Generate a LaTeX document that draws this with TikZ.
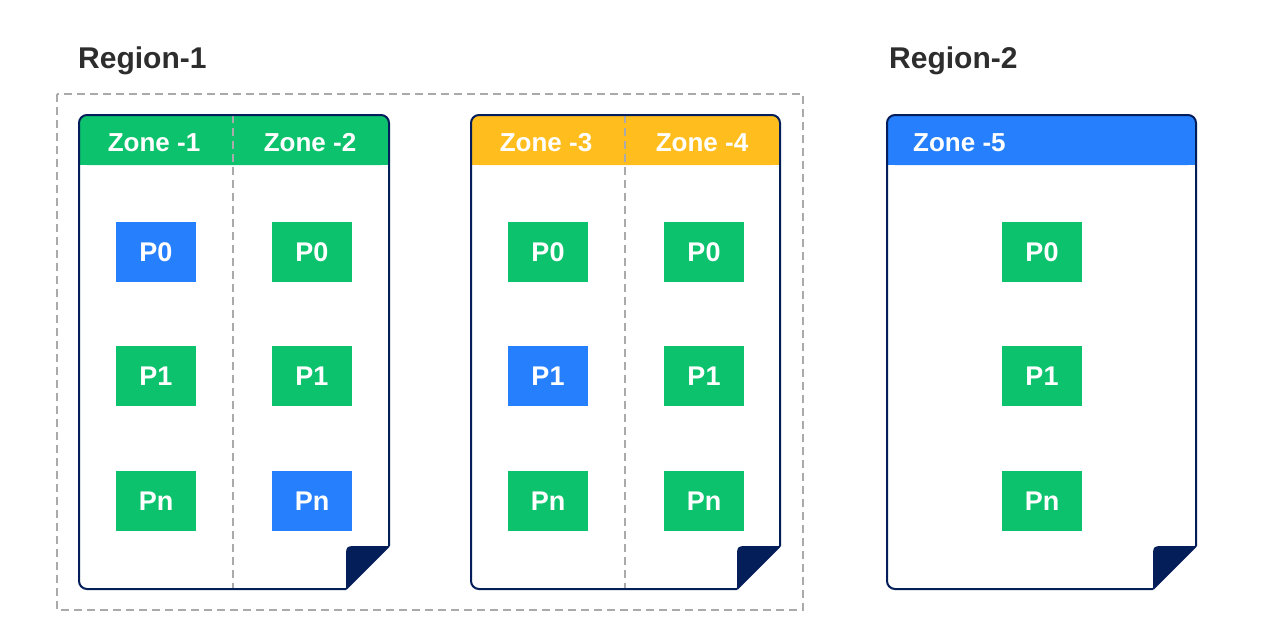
\documentclass[tikz,border=0pt]{standalone}
\usepackage{fontspec}
\setmainfont{Liberation Sans}
\usetikzlibrary{positioning}
\definecolor{pgreen}{HTML}{0CC26C}
\definecolor{pblue}{HTML}{2680FE}
\definecolor{pyellow}{HTML}{FFBE1E}
\definecolor{navy}{HTML}{041E5A}
\definecolor{dgray}{HTML}{2D2D2D}
\definecolor{lgray}{HTML}{AAAAAA}

\begin{document}
\begin{tikzpicture}[x=1pt,y=-1pt]
	\tikzstyle{part}=[minimum width=80pt,minimum height=60pt,inner sep=0pt,text=white,font=\bfseries\fontsize{27}{27}\selectfont]
	\tikzstyle{zone}=[anchor=base,inner sep=0pt,text=white,font=\bfseries\fontsize{26}{26}\selectfont]
	\tikzstyle{region}=[anchor=base west,inner sep=0pt,text=dgray,font=\bfseries\fontsize{30}{30}\selectfont]
	\tikzstyle{frame}=[draw=navy,line width=2pt]
	\tikzstyle{sep}=[draw=lgray,line width=1.5pt,dash pattern=on 8pt off 5pt]

	\useasboundingbox (0,0) rectangle (1280,640);

	\node[region] (reg1) at (78,68) {Region-1};
	\node[region] (reg2) at (889,68) {Region-2};
	\draw[sep] (57,94) rectangle (803,610);

	% zone 1 + 2
	\fill[pgreen,rounded corners=8pt] (79,115) rectangle (389,165);
	\fill[pgreen] (79,140) rectangle (389,165);
	\draw[sep] (233,115) -- (233,589);
	\draw[frame,rounded corners=8pt] (389,546) -- (389,115) -- (79,115) -- (79,589) -- (346,589);
	\draw[frame] (346,589) -- (389,546);
	\fill[navy] (346,589) -- (346,558) .. controls (346,546) .. (358,546) -- (389,546) -- cycle;

	% zone 3 + 4
	\fill[pyellow,rounded corners=8pt] (471,115) rectangle (780,165);
	\fill[pyellow] (471,140) rectangle (780,165);
	\draw[sep] (625,115) -- (625,589);
	\draw[frame,rounded corners=8pt] (780,546) -- (780,115) -- (471,115) -- (471,589) -- (737,589);
	\draw[frame] (737,589) -- (780,546);
	\fill[navy] (737,589) -- (737,558) .. controls (737,546) .. (749,546) -- (780,546) -- cycle;

	% zone 5
	\fill[pblue,rounded corners=8pt] (887,115) rectangle (1196,165);
	\fill[pblue] (887,140) rectangle (1196,165);
	\draw[frame,rounded corners=8pt] (1196,546) -- (1196,115) -- (887,115) -- (887,589) -- (1153,589);
	\draw[frame] (1153,589) -- (1196,546);
	\fill[navy] (1153,589) -- (1153,558) .. controls (1153,546) .. (1165,546) -- (1196,546) -- cycle;

	\node[zone] (zone1) at (154,151) {Zone -1};
	\node[zone] (zone2) at (310,151) {Zone -2};
	\node[zone] (zone3) at (546,151) {Zone -3};
	\node[zone] (zone4) at (702,151) {Zone -4};
	\node[zone,anchor=base west] (zone5) at (913,151) {Zone -5};

	\node[part,fill=pblue] (z1p0) at (156,252) {P0};
	\node[part,fill=pgreen] (z1p1) [below=64pt of z1p0] {P1};
	\node[part,fill=pgreen] (z1pn) [below=64pt of z1p1] {Pn};

	\node[part,fill=pgreen] (z2p0) at (312,252) {P0};
	\node[part,fill=pgreen] (z2p1) [below=64pt of z2p0] {P1};
	\node[part,fill=pblue] (z2pn) [below=64pt of z2p1] {Pn};

	\node[part,fill=pgreen] (z3p0) at (548,252) {P0};
	\node[part,fill=pblue] (z3p1) [below=64pt of z3p0] {P1};
	\node[part,fill=pgreen] (z3pn) [below=64pt of z3p1] {Pn};

	\node[part,fill=pgreen] (z4p0) at (704,252) {P0};
	\node[part,fill=pgreen] (z4p1) [below=64pt of z4p0] {P1};
	\node[part,fill=pgreen] (z4pn) [below=64pt of z4p1] {Pn};

	\node[part,fill=pgreen] (z5p0) at (1042,252) {P0};
	\node[part,fill=pgreen] (z5p1) [below=64pt of z5p0] {P1};
	\node[part,fill=pgreen] (z5pn) [below=64pt of z5p1] {Pn};

\end{tikzpicture}
\end{document}
